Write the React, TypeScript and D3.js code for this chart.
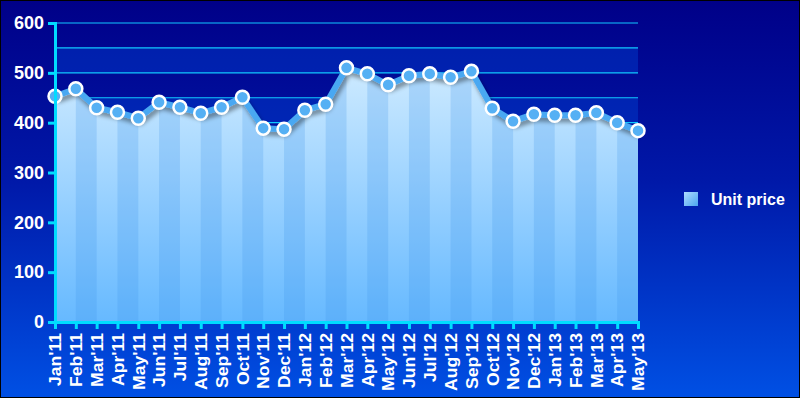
import React, { useEffect, useRef } from 'react';
import { select, scalePoint, scaleLinear, axisLeft, axisBottom, line, area, range } from 'd3';

const months = ["Jan'11", "Feb'11", "Mar'11", "Apr'11", "May'11", "Jun'11", "Jul'11", "Aug'11", "Sep'11", "Oct'11", "Nov'11", "Dec'11",
    "Jan'12", "Feb'12", "Mar'12", "Apr'12", "May'12", "Jun'12", "Jul'12", "Aug'12", "Sep'12", "Oct'12", "Nov'12", "Dec'12",
    "Jan'13", "Feb'13", "Mar'13", "Apr'13", "May'13"];
const unitPrice = [453, 468, 430, 421, 409, 441, 431, 419, 431, 451, 389, 387,
    425, 437, 510, 498, 476, 494, 498, 491, 503, 429, 403, 417,
    415, 415, 420, 400, 384];
const yTicks = [0, 100, 200, 300, 400, 500, 600];
const seriesName = 'Unit price';

const W = 800, H = 398;
const left = 55, right = 638, top = 23, bottom = 322;
const axisColor = '#00dcff';
const font = 'Liberation Sans, Arial, sans-serif';

const App = () => {
    const yAxisRef = useRef<SVGGElement>(null);
    const xAxisRef = useRef<SVGGElement>(null);

    const x = scalePoint<string>().domain(months).range([left, right]);
    const y = scaleLinear().domain([0, 600]).range([bottom, top]);

    const pts = unitPrice.map((v, i) => [x(months[i]) as number, y(v)] as [number, number]);
    const linePath = line()(pts) as string;
    const areaPath = area().x(d => d[0]).y0(y(0)).y1(d => d[1])(pts) as string;
    const grid = range(0, 601, 50);

    useEffect(() => {
        const ya = select(yAxisRef.current);
        ya.call(axisLeft(y).tickValues(yTicks).tickSize(7).tickPadding(4));
        ya.attr('font-family', font).attr('font-size', 18).attr('font-weight', 'bold');
        ya.select('.domain').attr('stroke', axisColor).attr('stroke-width', 3);
        ya.selectAll('.tick line').attr('stroke', axisColor).attr('stroke-width', 3);
        ya.selectAll('.tick text').attr('fill', '#fff');

        const xa = select(xAxisRef.current);
        xa.call(axisBottom(x).tickSize(7).tickPadding(4));
        xa.attr('font-family', font).attr('font-size', 16).attr('font-weight', 'bold');
        xa.select('.domain').attr('stroke', axisColor).attr('stroke-width', 3);
        xa.selectAll('.tick line').attr('stroke', axisColor).attr('stroke-width', 3);
        xa.selectAll('.tick text')
            .attr('fill', '#fff')
            .attr('text-anchor', 'end')
            .attr('transform', 'rotate(-90) scale(1.1,1)')
            .attr('x', -10).attr('y', 0).attr('dy', '0.36em');
    }, []);

    return (
        <svg width={W} height={H} style={{ position: 'absolute', left: 0, top: 0, display: 'block' }}>
            <defs>
                <linearGradient id="bg" x1="0" y1="0" x2="0" y2="1">
                    <stop offset="0" stopColor="#000088" />
                    <stop offset="0.45" stopColor="#0018a8" />
                    <stop offset="1" stopColor="#0050e4" />
                </linearGradient>
                <linearGradient id="areaGrad" x1="0" y1="0" x2="0" y2="1">
                    <stop offset="0" stopColor="#cdeaff" />
                    <stop offset="1" stopColor="#66b9ff" />
                </linearGradient>
                <linearGradient id="legendGrad" x1="0" y1="0" x2="1" y2="1">
                    <stop offset="0" stopColor="#aedcff" />
                    <stop offset="1" stopColor="#4aa4f0" />
                </linearGradient>
                <clipPath id="areaClip">
                    <path d={areaPath} />
                </clipPath>
                <filter id="shadow" x="-5%" y="-20%" width="110%" height="140%">
                    <feDropShadow dx="2" dy="4" stdDeviation="2" floodColor="#000" floodOpacity="0.4" />
                </filter>
            </defs>
            <rect x={0.5} y={0.5} width={W - 1} height={H - 1} fill="url(#bg)" stroke="#000" />

            {/* alternating bands */}
            {grid.slice(0, -1).filter(v => (v / 50) % 2 === 0).map(v => (
                <rect key={v} x={left} y={y(v + 50)} width={right - left} height={y(v) - y(v + 50)}
                    fill="#0040d0" opacity={0.45} />
            ))}
            {grid.slice(1).map(v => (
                <line key={v} x1={left} x2={right} y1={y(v)} y2={y(v)} stroke="#10c8ff" strokeWidth={1.2} />
            ))}

            {/* area with stripes */}
            <path d={areaPath} fill="url(#areaGrad)" />
            <g clipPath="url(#areaClip)">
                {months.slice(0, -1).map((m, i) => i % 2 === 1 ? (
                    <rect key={m} x={x(m)} y={top} width={x.step()} height={bottom - top}
                        fill="#3a90e8" opacity={0.22} />
                ) : null)}
            </g>

            <path d={linePath} fill="none" stroke="#4aa8f2" strokeWidth={6} strokeLinejoin="round" filter="url(#shadow)" />
            {pts.map((p, i) => (
                <circle key={months[i]} cx={p[0]} cy={p[1]} r={6.5} fill="#55b0f4" stroke="#fff" strokeWidth={2.5} />
            ))}

            <g ref={yAxisRef} transform={`translate(${left},0)`} />
            <g ref={xAxisRef} transform={`translate(0,${bottom})`} />

            <rect x={684} y={192} width={14} height={14} fill="url(#legendGrad)" />
            <text x={711} y={205} fill="#fff" fontFamily={font} fontSize={16} fontWeight="bold">{seriesName}</text>
        </svg>
    );
};

export default App;
